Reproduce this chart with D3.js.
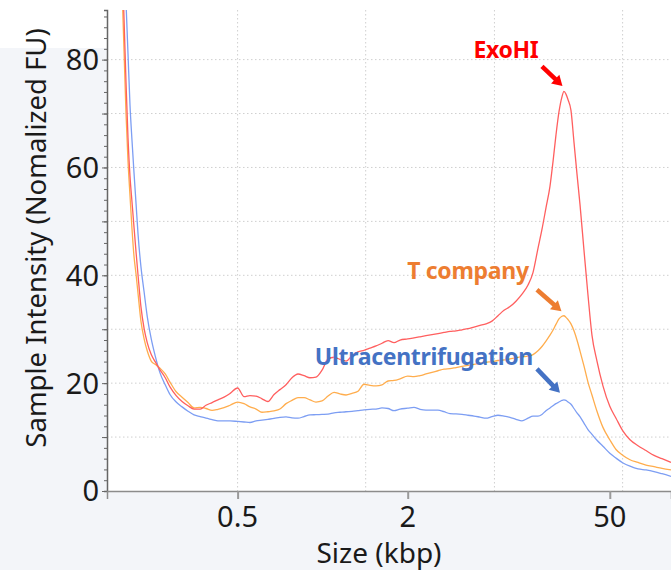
<!DOCTYPE html>
<html>
<head>
<meta charset="utf-8">
<script src="https://cdn.jsdelivr.net/npm/d3@7"></script>
<style>
  html, body { margin: 0; padding: 0; background: #f3f5f9; }
  svg { display: block; }
  text { font-family: "Noto Sans", "Open Sans", sans-serif; }
</style>
</head>
<body>
<div id="chart"></div>
<script>
// fragment size (kbp), shared by the three traces
const sizes = [
  0.1893, 0.1925, 0.1957, 0.1989, 0.2022, 0.2056, 0.2090, 0.2125, 0.2161, 0.2197,
  0.225, 0.231, 0.237, 0.245, 0.253, 0.263, 0.275, 0.286, 0.301, 0.316,
  0.332, 0.349, 0.367, 0.385, 0.405, 0.425, 0.447, 0.470, 0.5, 0.527,
  0.553, 0.581, 0.610, 0.640, 0.673, 0.706, 0.742, 0.779, 0.818, 0.859,
  0.902, 0.947, 0.995, 1.045, 1.097, 1.152, 1.210, 1.270, 1.334, 1.401,
  1.471, 1.545, 1.622, 1.704, 1.789, 1.879, 2, 2.211, 2.433, 2.676,
  2.945, 3.240, 3.565, 3.923, 4.316, 4.749, 5.225, 5.749, 6.325, 6.959,
  7.657, 8.425, 9.270, 10.20, 11.22, 12.35, 13.59, 14.71, 15.93, 16.97,
  18.09, 19.28, 20.22, 21.21, 22.25, 23.34, 24.09, 24.87, 25.68, 26.94,
  28.26, 29.64, 31.09, 33.13, 35.31, 37.63, 40.76, 44.83, 50, 56.43,
  64.69, 74.15, 86.69, 101.3, 118.5, 138.5, 165
];

// sample intensity (normalized FU)
const exoHI = [
  111, 99, 87.5, 75.8, 65.5, 58.3, 53.6, 48.9, 44.3, 40.0,
  34.2, 30.1, 27.5, 25.3, 24.0, 22.5, 21.0, 19.3, 17.7, 16.6,
  15.8, 15.2, 15.2, 15.9, 16.4, 16.9, 17.4, 18.1, 19.1, 17.5,
  17.7, 17.6, 17.1, 16.6, 17.9, 18.8, 19.7, 21.0, 21.7, 21.4,
  21.0, 21.1, 22.4, 24.5, 24.8, 24.4, 24.1, 25.1, 25.8, 26.1,
  26.5, 26.9, 27.4, 27.9, 27.5, 28.0, 28.2, 28.4, 28.6, 28.8,
  29.0, 29.2, 29.4, 29.6, 29.7, 29.9, 30.1, 30.4, 30.7, 31.0,
  31.5, 32.5, 33.5, 34.2, 35.2, 36.5, 38.2, 40.5, 45.0, 48.5,
  52.5, 56.5, 61.0, 66.0, 70.3, 73.1, 74.1, 73.6, 72.6, 70.6,
  64.7, 58.8, 53.2, 44.7, 36.4, 28.9, 24.1, 19.5, 15.7, 13.5,
  11.1, 9.5, 8.4, 7.5, 6.6, 6.0, 5.3
];

const tCompany = [
  104.8, 93.2, 81.6, 70.0, 61.2, 54.7, 48.6, 43.5, 40.2, 36.6,
  31.5, 28.2, 26.0, 24.1, 23.5, 22.8, 21.7, 20.2, 18.4, 17.4,
  16.4, 15.4, 15.5, 15.3, 14.95, 15.15, 15.45, 15.9, 16.5, 16.2,
  15.6, 15.2, 14.6, 14.7, 14.85, 15.2, 16.2, 16.8, 17.3, 17.3,
  16.9, 16.5, 16.7, 17.6, 18.3, 18.0, 17.8, 18.1, 18.5, 19.8,
  19.6, 19.5, 19.7, 20.4, 20.5, 20.8, 21.3, 21.2, 21.4, 21.7,
  22.0, 22.3, 22.6, 22.7, 22.9, 23.1, 23.3, 23.5, 23.7, 23.9,
  24.0, 24.2, 24.3, 24.5, 24.7, 24.9, 25.0, 25.3, 26.0, 26.8,
  27.8, 28.9, 29.8, 30.9, 31.9, 32.4, 32.5, 32.2, 31.8, 31.0,
  29.7, 28.0, 26.0, 23.2, 20.2, 17.8, 14.8, 11.8, 9.5, 7.7,
  6.6, 5.8, 5.3, 4.8, 4.5, 4.2, 3.9
];

const ultracentrifugation = [
  119, 109.7, 100.2, 90.6, 81.1, 71.5, 65.0, 59.0, 53.3, 47.6,
  41.6, 36.9, 32.4, 28.2, 25.1, 22.0, 19.7, 17.9, 16.5, 15.6,
  14.8, 14.1, 13.8, 13.5, 13.25, 13.0, 13.0, 13.0, 12.9, 12.8,
  12.7, 13.0, 13.15, 13.3, 13.45, 13.65, 13.75, 13.55, 13.5, 13.8,
  14.1, 14.15, 14.2, 14.25, 14.5, 14.6, 14.7, 14.75, 14.9, 15.05,
  15.15, 15.2, 15.4, 15.3, 14.9, 15.2, 15.35, 15.5, 15.15, 15.0,
  15.0, 15.0, 14.7, 14.35, 14.3, 14.2, 14.05, 13.9, 13.7, 13.5,
  13.8, 14.05, 13.9, 13.65, 13.3, 13.0, 13.5, 13.9, 13.9, 14.2,
  14.9, 15.4, 15.8, 16.2, 16.5, 16.8, 16.9, 16.8, 16.5, 16.1,
  15.3, 14.5, 13.8, 12.6, 11.4, 10.5, 9.4, 8.3, 7.0, 6.1,
  5.2, 4.6, 4.1, 3.9, 3.6, 3.2, 2.7
];

// axis ticks
const xTickValues = [0.5, 2, 50];
const xGridValues = [0.5, 1.42, 7.96, 64.2];
const yTickLabels = [0, 20, 40, 60, 80];
const yGridValues = [10, 20, 30, 40, 50, 60, 70, 80];

const seriesNames = ["ExoHI", "T company", "Ultracentrifugation"];
const seriesValues = [exoHI, tCompany, ultracentrifugation];

createChart();

function createChart() {
    const width = 671;
    const height = 570;
    const margin = {top: 10, right: 0, bottom: 79, left: 107};

    // size axis of the instrument is calibrated piecewise (log between ladder sizes)
    const x = d3.scaleLog()
        .domain([0.17, 0.5, 2, 50, 165])
        .range([margin.left, 237.6, 407.7, 609.8, width - margin.right]);

    const y = d3.scaleLinear()
        .domain([0, 89.2])
        .range([height - margin.bottom, margin.top]);

    const svg = d3.select("#chart")
        .append("svg")
        .attr("width", width)
        .attr("height", height);

    // background patches
    svg.append("rect")
        .attr("x", 0).attr("y", 0)
        .attr("width", width).attr("height", height)
        .attr("fill", "#f3f5f9");
    svg.append("rect")
        .attr("x", 0).attr("y", 0)
        .attr("width", margin.left).attr("height", 48)
        .attr("fill", "#ffffff");
    svg.append("rect")
        .attr("x", margin.left).attr("y", 0)
        .attr("width", width - margin.left).attr("height", height - margin.bottom)
        .attr("fill", "#ffffff");

    // grid
    const grid = svg.append("g")
        .attr("stroke", "#cfcfcf")
        .attr("stroke-width", 1)
        .attr("stroke-dasharray", "1.5,2.5");
    grid.selectAll(".hg")
        .data(yGridValues)
        .join("line")
        .attr("x1", margin.left).attr("x2", width)
        .attr("y1", d => y(d)).attr("y2", d => y(d));
    grid.selectAll(".vg")
        .data(xGridValues)
        .join("line")
        .attr("x1", d => x(d)).attr("x2", d => x(d))
        .attr("y1", margin.top).attr("y2", y(0));

    // traces
    svg.append("clipPath")
        .attr("id", "plot-clip")
        .append("rect")
        .attr("x", margin.left).attr("y", margin.top)
        .attr("width", width - margin.left)
        .attr("height", y(0) - margin.top);

    const line = d3.line()
        .x((d, i) => x(sizes[i]))
        .y(d => y(d))
        .curve(d3.curveMonotoneX);

    const lineColors = ["#ff5f5f", "#ffad4d", "#7d9ef3"];
    const plot = svg.append("g").attr("clip-path", "url(#plot-clip)");
    [2, 1, 0].forEach(k => {
        plot.append("path")
            .datum(seriesValues[k])
            .attr("fill", "none")
            .attr("stroke", lineColors[k])
            .attr("stroke-width", 1.3)
            .attr("stroke-linejoin", "round")
            .attr("d", line);
    });

    // y axis: minor ticks every 2, major every 10
    svg.append("g")
        .attr("transform", `translate(${margin.left},0)`)
        .call(d3.axisLeft(y).tickValues(d3.range(0, 89, 2)).tickSize(3).tickFormat(""))
        .call(g => g.selectAll("line").attr("stroke", "#666"))
        .call(g => g.select(".domain").attr("stroke", "#666").attr("stroke-width", 1.5));
    svg.append("g")
        .attr("transform", `translate(${margin.left},0)`)
        .call(d3.axisLeft(y).tickValues(yGridValues.concat([0])).tickSize(5).tickFormat(""))
        .call(g => g.select(".domain").remove())
        .call(g => g.selectAll("line").attr("stroke", "#666"));

    svg.append("g")
        .selectAll("text")
        .data(yTickLabels)
        .join("text")
        .attr("x", 99)
        .attr("y", d => y(d))
        .attr("dy", "0.36em")
        .attr("text-anchor", "end")
        .attr("font-size", 29)
        .attr("fill", "#1a1a1a")
        .text(d => d);

    // x axis
    const xAxis = svg.append("g")
        .attr("transform", `translate(0,${y(0)})`)
        .call(d3.axisBottom(x).tickValues(xTickValues).tickSize(8).tickFormat(""));
    xAxis.select(".domain").attr("stroke", "#8c8c8c").attr("stroke-width", 1.5);
    xAxis.selectAll(".tick line").attr("stroke", "#9a9a9a").attr("stroke-width", 2);

    svg.append("g")
        .selectAll("text")
        .data(xTickValues)
        .join("text")
        .attr("x", d => x(d))
        .attr("y", 527)
        .attr("text-anchor", "middle")
        .attr("font-size", 29)
        .attr("fill", "#1a1a1a")
        .text(d => d);

    // axis titles
    svg.append("text")
        .attr("x", 379)
        .attr("y", 563)
        .attr("text-anchor", "middle")
        .attr("font-size", 28)
        .attr("fill", "#1a1a1a")
        .text("Size (kbp)");

    svg.append("text")
        .attr("transform", "translate(46,238) rotate(-90)")
        .attr("text-anchor", "middle")
        .attr("font-size", 27.5)
        .attr("fill", "#1a1a1a")
        .text("Sample Intensity (Nomalized FU)");

    // peak annotations: arrow + label, placed relative to each trace's main peak
    const notes = [
        {color: "#ff0000", tip: [-1.5, -5.5], tail: [-22, -25], label: [-58, -33]},
        {color: "#ed7d31", tip: [-2.5, -4.5], tail: [-27, -26], label: [-96, -37]},
        {color: "#4472c4", tip: [-4, -7], tail: [-27, -31], label: [-140, -35]}
    ];
    const peakStart = sizes.findIndex(s => s > 10);

    notes.forEach((n, k) => {
        const vals = seriesValues[k];
        const pi = peakStart + d3.maxIndex(vals.slice(peakStart));
        const px = x(sizes[pi]);
        const py = y(vals[pi]);

        const tx = px + n.tip[0], ty = py + n.tip[1];
        const sx = px + n.tail[0], sy = py + n.tail[1];
        const len = Math.hypot(tx - sx, ty - sy);
        const ux = (tx - sx) / len, uy = (ty - sy) / len;
        const head = 10, half = 6;
        const bx = tx - ux * head, by = ty - uy * head;

        svg.append("line")
            .attr("x1", sx).attr("y1", sy)
            .attr("x2", bx + ux * 1).attr("y2", by + uy * 1)
            .attr("stroke", n.color)
            .attr("stroke-width", 4.5);
        svg.append("path")
            .attr("d", `M${tx},${ty}L${bx - uy * half},${by + ux * half}L${bx + uy * half},${by - ux * half}Z`)
            .attr("fill", n.color);

        svg.append("text")
            .attr("x", px + n.label[0])
            .attr("y", py + n.label[1])
            .attr("text-anchor", "middle")
            .attr("font-size", 23)
            .attr("font-weight", "bold")
            .attr("letter-spacing", -0.3)
            .attr("fill", n.color)
            .text(seriesNames[k]);
    });
}
</script>
</body>
</html>
